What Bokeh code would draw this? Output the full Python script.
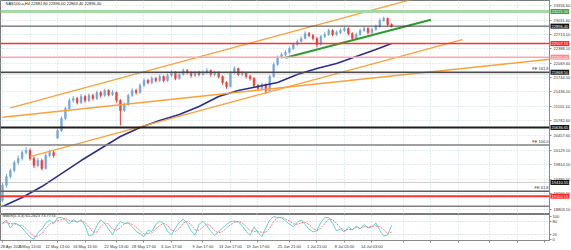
from bokeh.plotting import figure
from bokeh.layouts import column
from bokeh.models import (ColumnDataSource, FixedTicker, Label, Span, Range1d,
                          NumeralTickFormatter)
from bokeh.embed import file_html
from bokeh.resources import INLINE

# ---------------- data ----------------
title_text = "NAS100.a,H4  22881.80 22896.00 22863.40 22896.40"
stoch_text = "Stoch(5,3,3) 61.2823 73.7774"

opens = [19010, 19350, 19540, 19677, 19855, 19945, 20078, 20123, 19945, 19788,
         19900, 19722, 20012, 20078, 20400, 20569, 20837, 21060, 21238, 21283,
         21193, 21327, 21238, 21350, 21283, 21416, 21350, 21461, 21372, 21416,
         21238, 21015, 21149, 21350, 21461, 21416, 21573, 21684, 21639, 21729,
         21684, 21773, 21684, 21796, 21862, 21729, 21818, 21907, 21862, 21796,
         21862, 21818, 21862, 21907, 21818, 21862, 21773, 21639, 21550, 21862,
         21952, 21818, 21862, 21773, 21729, 21573, 21506, 21595, 21461, 21773,
         22041, 22197, 22264, 22308, 22398, 22487, 22554, 22621, 22732, 22688,
         22621, 22487, 22665, 22710, 22799, 22710, 22754, 22799, 22844, 22732,
         22621, 22710, 22799, 22844, 22754, 22821, 22888, 23022, 23067, 22933]
closes = [19350, 19540, 19677, 19855, 19945, 20078, 20123, 19945, 19788, 19900,
          19722, 20012, 20078, 20012, 20569, 20837, 21060, 21238, 21283, 21193,
          21327, 21238, 21350, 21283, 21416, 21350, 21461, 21372, 21416, 21238,
          21015, 21149, 21350, 21461, 21416, 21573, 21684, 21639, 21729, 21684,
          21773, 21684, 21796, 21862, 21729, 21818, 21907, 21862, 21796, 21862,
          21818, 21862, 21907, 21818, 21862, 21773, 21639, 21550, 21862, 21952,
          21818, 21862, 21773, 21729, 21573, 21506, 21595, 21461, 21773, 22041,
          22197, 22264, 22308, 22398, 22487, 22554, 22621, 22732, 22688, 22621,
          22487, 22665, 22710, 22799, 22710, 22754, 22799, 22844, 22732, 22621,
          22710, 22799, 22844, 22754, 22821, 22888, 23022, 23067, 22933, 22896.4]
highs = [19400, 19600, 19720, 19900, 20010, 20130, 20200, 20170, 19990, 19960,
         19940, 20060, 20140, 20120, 20620, 20880, 21100, 21290, 21340, 21320,
         21380, 21360, 21400, 21390, 21460, 21450, 21500, 21490, 21470, 21440,
         21270, 21200, 21390, 21510, 21500, 21620, 21730, 21720, 21780, 21760,
         21820, 21800, 21840, 21910, 21890, 21860, 21950, 21940, 21890, 21900,
         21900, 21910, 21960, 21930, 21900, 21890, 21800, 21670, 21900, 22000,
         21970, 21900, 21880, 21810, 21760, 21610, 21640, 21620, 21810, 22090,
         22240, 22310, 22360, 22440, 22530, 22600, 22670, 22780, 22770, 22720,
         22650, 22700, 22760, 22840, 22830, 22800, 22840, 22890, 22870, 22760,
         22750, 22840, 22890, 22870, 22860, 22930, 23070, 23110, 23090, 22960]
lows = [18980, 19300, 19500, 19640, 19810, 19900, 20040, 19900, 19730, 19750,
        19680, 19700, 19970, 19960, 20380, 20540, 20800, 21020, 21190, 21150,
        21160, 21190, 21200, 21240, 21250, 21300, 21320, 21330, 21340, 21190,
        20680, 20980, 21120, 21320, 21370, 21390, 21540, 21600, 21600, 21640,
        21650, 21640, 21650, 21760, 21690, 21700, 21790, 21820, 21750, 21760,
        21780, 21790, 21830, 21770, 21780, 21730, 21590, 21500, 21530, 21830,
        21780, 21780, 21730, 21680, 21530, 21460, 21470, 21380, 21440, 21750,
        22010, 22170, 22230, 22280, 22370, 22460, 22530, 22600, 22650, 22580,
        22420, 22460, 22630, 22680, 22670, 22680, 22720, 22770, 22690, 22560,
        22590, 22680, 22770, 22710, 22720, 22790, 22860, 22990, 22890, 22863.4]

ma_idx = [0, 5, 10, 15, 20, 25, 30, 35, 40, 45, 50, 55, 60, 65, 70, 75, 80, 85, 90, 95, 99]
ma_val = [18874, 19075, 19320, 19610, 19900, 20168, 20435, 20636, 20792, 20926, 21104,
          21327, 21461, 21550, 21639, 21818, 21952, 22063, 22219, 22375, 22509]

stoch_main = [70, 85, 50, 72, 65, 50, 30, 10, 2, 30,
              45, 70, 85, 68, 94, 96, 85, 68, 86, 75,
              86, 60, 15, 22, 60, 86, 70, 45, 20, 55,
              78, 70, 72, 55, 35, 25, 12, 40, 35, 65,
              80, 68, 35, 20, 50, 75, 88, 70, 38, 18,
              65, 80, 60, 35, 18, 35, 50, 65, 78, 80,
              76, 60, 35, 18, 55, 30, 12, 50, 85, 100,
              96, 95, 80, 68, 55, 75, 85, 65, 45, 33,
              38, 75, 95, 96, 70, 38, 45, 33, 55, 42,
              58, 46, 65, 50, 55, 72, 40, 15, 20, 61]
stoch_signal = [70, 75, 68, 69, 62, 62, 48, 30, 14, 14,
                26, 48, 67, 74, 82, 86, 92, 83, 80, 76,
                82, 74, 54, 32, 32, 56, 72, 67, 45, 40,
                51, 68, 73, 66, 54, 38, 24, 26, 29, 47,
                60, 71, 61, 41, 35, 48, 71, 78, 65, 42,
                40, 54, 68, 58, 38, 29, 34, 50, 64, 74,
                78, 72, 57, 38, 36, 34, 32, 31, 49, 78,
                94, 97, 90, 81, 68, 66, 72, 75, 65, 48,
                39, 49, 69, 89, 87, 68, 51, 39, 44, 43,
                52, 49, 56, 54, 57, 59, 56, 42, 25, 32]

price_ticks = [23356.60, 23031.60, 22713.10, 22388.10, 22069.60, 21744.50, 21436.10,
               21101.10, 20782.60, 20457.60, 20129.10, 19814.10, 19485.50, 19160.10, 18803.10]
stoch_ticks = [0, 20, 80, 100]

date_tick_idx = [0, 7, 14, 21, 29, 36, 43, 51, 58, 65, 73, 80, 87, 94]
date_tick_labels = ["28 Apr 2025", "6 May 13:00", "12 May 13:00", "16 May 13:00",
                    "22 May 13:00", "28 May 17:00", "3 Jun 17:00", "9 Jun 17:00",
                    "13 Jun 17:00", "19 Jun 17:00", "25 Jun 21:00", "1 Jul 21:00",
                    "8 Jul 05:00", "14 Jul 03:00"]
future_grid_idx = [102, 109, 116, 124, 131, 138]

# horizontal levels
level_price = [23221.50, 22896.40, 22507.15, 22205.05, 21868.50, 21829.00,
               20636.65, 20246.00, 19410.55, 19215.00, 19104.15, 18881.00]
level_box = ["23221.50", "22896.40", "22507.15", "22205.05", "21868.50", "",
             "20636.65", "", "19410.55", "", "19104.15", ""]
level_fib = ["", "", "", "", "FE 161.8", "", "", "FE 100.0", "", "FE 61.8", "", ""]

# trend lines (bar index, price)
orange_shallow_x = [0, 140]
orange_shallow_y = [20863, 22163]
orange_lower_x = [7, 117]
orange_lower_y = [19989, 22594]
orange_upper_x = [2, 110]
orange_upper_y = [21075, 23631]
green_x = [72, 109]
green_y = [22190, 23040]

# ---------------- styling ----------------
FONT = "Liberation Sans"
FS = "4px"
PX_PER_BAR = 3.93
FRAME_W = 549
X0 = -0.51
X1 = X0 + FRAME_W / PX_PER_BAR
Y_LO, Y_HI = 18696, 23468

level_color = ["#a6d9a6", "#404040", "#ff3030", "#ffa6a6", "#4a4a4a", "#9a9a9a",
               "#1e1e1e", "#808080", "#9a9a9a", "#606060", "#ff3030", "#808080"]
level_width = [3, 1, 1.5, 1.5, 1.5, 1, 2, 1.5, 1, 1.5, 2, 1.5]
level_dash = ["solid", "solid", "solid", "solid", "solid", "1 1",
              "solid", "solid", "1 1", "solid", "solid", "solid"]
box_bg = ["#3f9f3f", "#111111", "#ff2020", "#ff8c8c", "#111111", None,
          "#111111", None, "#111111", None, "#ff2020", None]

UP = "#72a6dc"
DOWN = "#f03c3c"
GRID = "#c4dde4"

p = figure(frame_width=FRAME_W, frame_height=214, x_range=Range1d(X0, X1),
           y_range=Range1d(Y_LO, Y_HI), output_backend="svg", toolbar_location=None,
           y_axis_location="right", x_axis_location=None,
           min_border_left=0, min_border_right=0, min_border_top=0, min_border_bottom=0,
           background_fill_color="white", border_fill_color="white",
           outline_line_color="#7a7a7a")

p.yaxis.ticker = FixedTicker(ticks=price_ticks)
p.yaxis.formatter = NumeralTickFormatter(format="0.00")
for ax in p.yaxis:
    ax.major_label_text_font_size = FS
    ax.major_label_text_font = FONT
    ax.major_label_text_color = "#333333"
    ax.major_label_standoff = 2
    ax.major_tick_out = 2
    ax.major_tick_in = 0
    ax.minor_tick_out = 0
    ax.minor_tick_in = 0
    ax.axis_line_color = "#8a8a8a"
    ax.major_tick_line_color = "#8a8a8a"

p.xgrid.ticker = FixedTicker(ticks=date_tick_idx + future_grid_idx)
p.xgrid.grid_line_color = GRID
p.xgrid.grid_line_dash = "1 2"
p.ygrid.grid_line_color = GRID
p.ygrid.grid_line_dash = "1 2"

# candles
idx = list(range(len(closes)))
cols = [UP if c >= o else DOWN for o, c in zip(opens, closes)]
src = ColumnDataSource(dict(x=idx, o=opens, h=highs, l=lows, c=closes,
                            top=[max(a, b) for a, b in zip(opens, closes)],
                            bot=[min(a, b) for a, b in zip(opens, closes)],
                            col=cols))
p.segment(x0="x", y0="l", x1="x", y1="h", line_color="col", line_width=1, source=src)
p.vbar(x="x", width=0.45, top="top", bottom="bot", fill_color="col", line_color="col",
       line_width=0.5, source=src)

# moving average
p.line(ma_idx, ma_val, line_color="#2c2c8c", line_width=1.5)

# trend lines
p.line(orange_shallow_x, orange_shallow_y, line_color="#f7a23a", line_width=1.5)
p.line(orange_lower_x, orange_lower_y, line_color="#f7a23a", line_width=1.3)
p.line(orange_upper_x, orange_upper_y, line_color="#f7a23a", line_width=1.3)
p.line(green_x, green_y, line_color="#2f9a2f", line_width=2)

# levels
for i, lp in enumerate(level_price):
    p.add_layout(Span(location=lp, dimension="width", line_color=level_color[i],
                      line_width=level_width[i], line_dash=level_dash[i]))
for i, lp in enumerate(level_price):
    if level_fib[i]:
        p.add_layout(Label(x=X1, y=lp, x_offset=-1, y_offset=1, text=level_fib[i],
                           text_align="right", text_baseline="bottom",
                           text_font=FONT, text_font_size=FS, text_color="#333333"))
# price boxes on the price scale (placed in the right side panel so they are not clipped)
for i, lp in enumerate(level_price):
    if level_box[i]:
        p.add_layout(Label(x=X1, y=lp, x_offset=1, text=level_box[i],
                           text_align="left", text_baseline="middle",
                           text_font=FONT, text_font_size=FS, text_color="white",
                           background_fill_color=box_bg[i], padding=1), "right")

p.add_layout(Label(x=X0 + 5 / PX_PER_BAR, y=Y_HI - 3 * 22.3, text=title_text,
                   text_align="left", text_baseline="middle",
                   text_font=FONT, text_font_size=FS, text_color="#222222"))

# ---------------- stochastic panel ----------------
q = figure(frame_width=FRAME_W, frame_height=26, x_range=p.x_range,
           y_range=Range1d(-4.35, 108.7), output_backend="svg", toolbar_location=None,
           y_axis_location="right", x_axis_location="below",
           min_border_left=0, min_border_right=0, min_border_top=0, min_border_bottom=0,
           background_fill_color="white", border_fill_color="white",
           outline_line_color="#7a7a7a")
q.yaxis.ticker = FixedTicker(ticks=stoch_ticks)
q.xaxis.ticker = FixedTicker(ticks=date_tick_idx + future_grid_idx)
q.xaxis.major_label_overrides = {**{t: l for t, l in zip(date_tick_idx, date_tick_labels)},
                                 **{t: "" for t in future_grid_idx}}
for ax in list(q.yaxis) + list(q.xaxis):
    ax.major_label_text_font_size = FS
    ax.major_label_text_font = FONT
    ax.major_label_text_color = "#333333"
    ax.major_label_standoff = 1
    ax.major_tick_out = 2
    ax.major_tick_in = 0
    ax.minor_tick_out = 0
    ax.minor_tick_in = 0
    ax.axis_line_color = "#8a8a8a"
    ax.major_tick_line_color = "#8a8a8a"
q.xaxis.major_label_text_align = "left"
q.xgrid.grid_line_color = GRID
q.xgrid.grid_line_dash = "1 2"
q.ygrid.ticker = FixedTicker(ticks=[20, 80])
q.ygrid.grid_line_color = "#c8c8c8"
q.ygrid.grid_line_dash = "1 2"

q.line(idx, stoch_main, line_color="#62cfd6", line_width=1)
q.line(idx, stoch_signal, line_color="#f08080", line_width=1, line_dash="2 1")
q.add_layout(Label(x=X0 + 2 / PX_PER_BAR, y=103, text=stoch_text,
                   text_align="left", text_baseline="middle",
                   text_font=FONT, text_font_size=FS, text_color="#222222"))

layout = column(p, q, spacing=0)
open("out.html", "w").write(file_html(layout, INLINE))
